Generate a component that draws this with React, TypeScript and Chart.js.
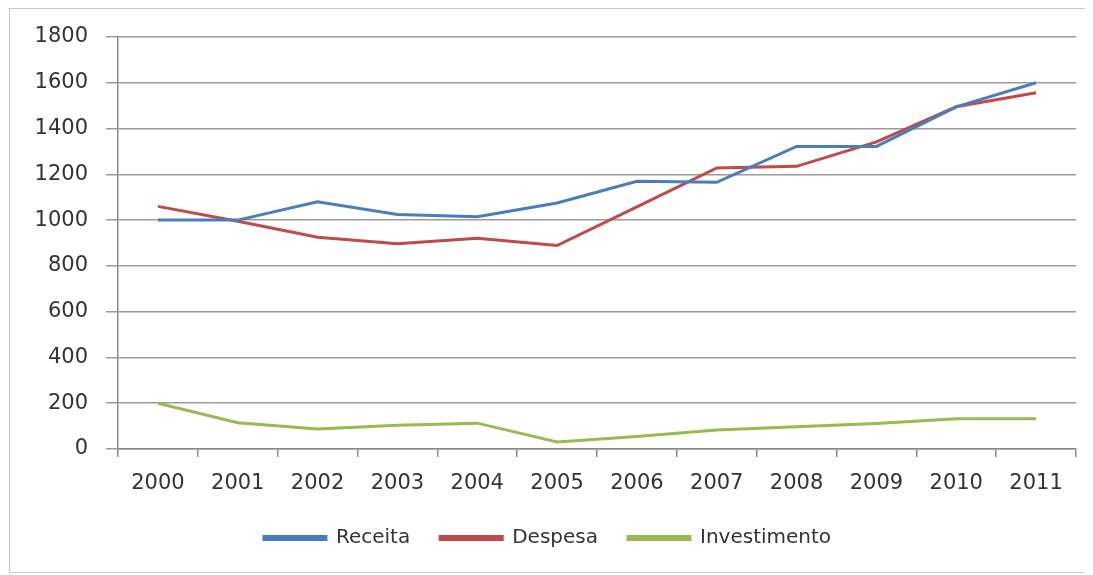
import React, { useEffect, useRef } from "react";
import { Chart, registerables } from "chart.js";

Chart.register(...registerables);

const years = ["2000", "2001", "2002", "2003", "2004", "2005", "2006", "2007", "2008", "2009", "2010", "2011"];
const receita = [1000, 1000, 1080, 1025, 1015, 1075, 1170, 1165, 1322, 1322, 1495, 1600];
const despesa = [1060, 995, 925, 897, 921, 889, 1058, 1228, 1235, 1342, 1495, 1556];
const investimento = [200, 115, 87, 104, 113, 31, 55, 83, 97, 111, 132, 132];

export default function App() {
  const ref = useRef<HTMLCanvasElement | null>(null);
  useEffect(() => {
    if (!ref.current) return;
    const font = { family: "'DejaVu Sans', sans-serif", size: 21 };
    const chart = new Chart(ref.current, {
      type: "line",
      data: {
        labels: years,
        datasets: [
          { label: "Receita", data: receita, borderColor: "#4a7ebb", backgroundColor: "#4a7ebb", borderWidth: 3, pointRadius: 0, tension: 0 },
          { label: "Despesa", data: despesa, borderColor: "#be4b48", backgroundColor: "#be4b48", borderWidth: 3, pointRadius: 0, tension: 0 },
          { label: "Investimento", data: investimento, borderColor: "#98b954", backgroundColor: "#98b954", borderWidth: 3, pointRadius: 0, tension: 0 },
        ],
      },
      options: {
        animation: false,
        responsive: false,
        maintainAspectRatio: false,
        layout: { padding: { top: 13, right: 14, left: 9, bottom: 14 } },
        plugins: {
          tooltip: { enabled: false },
          legend: {
            position: "bottom",
            labels: {
              font: { family: "'DejaVu Sans', sans-serif", size: 20 },
              color: "#333",
              boxWidth: 62,
              boxHeight: 3,
              padding: 30,
            },
          },
        },
        scales: {
          x: {
            offset: true,
            grid: { display: true, drawOnChartArea: false, offset: true, tickLength: 8, color: "#8a8a8a", lineWidth: 1.5 },
            border: { color: "#8a8a8a", width: 1.5 },
            ticks: { font, color: "#333", padding: 14, maxRotation: 0, autoSkip: false },
            afterFit: (s: any) => { s.height = 49; },
          },
          y: {
            min: 0,
            max: 1800,
            grid: { color: "#9a9a9a", lineWidth: 1.5, tickLength: 12 },
            border: { color: "#8a8a8a", width: 1.5 },
            ticks: { stepSize: 200, font, color: "#333", padding: 18, callback: (v: any) => String(v) },
            afterFit: (s: any) => { s.width = 99; s.paddingTop = 28; },
          },
        },
      },
    });
    return () => chart.destroy();
  }, []);
  return (
    <div style={{ width: 1082, height: 565, border: "1px solid #c8c8c8", boxSizing: "border-box", marginLeft: 1 }}>
      <canvas ref={ref} width={1080} height={563} style={{ display: "block" }} />
    </div>
  );
}
